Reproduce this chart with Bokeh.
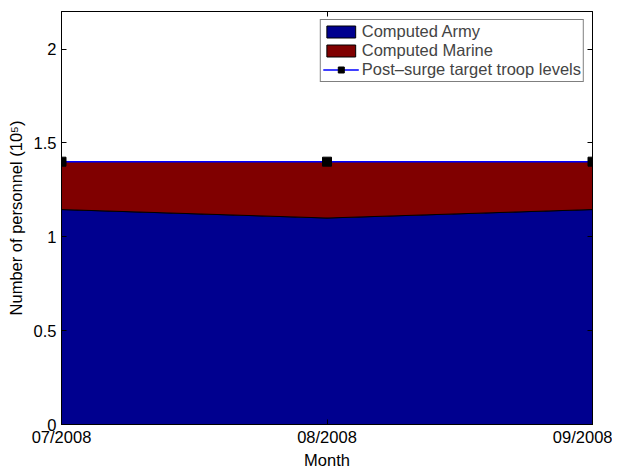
from bokeh.plotting import figure
from bokeh.models import LinearAxis, FixedTicker, Range1d, Legend, LegendItem
from bokeh.embed import file_html
from bokeh.resources import INLINE

months = ["07/2008", "08/2008", "09/2008"]
army = [1.145, 1.10, 1.145]
marine = [0.255, 0.30, 0.255]
target = [1.4, 1.4, 1.4]
y_ticks = [0, 0.5, 1, 1.5, 2]
y_tick_labels = ["0", "0.5", "1", "1.5", "2"]

xs = list(range(len(months)))
total = [a + m for a, m in zip(army, marine)]

FONT = "Liberation Sans"
FS = "16.5px"

p = figure(frame_width=531, frame_height=413, output_backend="svg", toolbar_location=None,
           x_range=Range1d(0, len(months) - 1), y_range=Range1d(0, 2.2),
           min_border_left=61, min_border_top=11, min_border_right=20, min_border_bottom=10)
p.background_fill_color = "white"
p.outline_line_color = "black"
p.outline_line_width = 1
p.grid.visible = False

army_patch = p.patch(xs + xs[::-1], army + [0] * len(xs), fill_color="#00008F",
                     line_color="black", line_width=1)
marine_patch = p.patch(xs + xs[::-1], total + army[::-1], fill_color="#800000",
                       line_color="black", line_width=1)
tline = p.line(xs, target, line_color="#0000FF", line_width=1.5)
tmark = p.scatter(xs, target, marker="square", size=9, fill_color="black", line_color="black")

def style_axis(ax):
    ax.major_tick_in = 5
    ax.major_tick_out = 0
    ax.minor_tick_in = 0
    ax.minor_tick_out = 0
    ax.axis_line_color = "black"
    ax.major_tick_line_color = "black"
    ax.major_label_text_font = FONT
    ax.major_label_text_font_size = FS
    ax.major_label_text_color = "black"
    ax.axis_label_text_font = FONT
    ax.axis_label_text_font_size = FS
    ax.axis_label_text_font_style = "normal"
    ax.axis_label_text_color = "black"

xaxis = p.xaxis[0]
xaxis.ticker = FixedTicker(ticks=xs)
xaxis.major_label_overrides = {i: m for i, m in zip(xs, months)}
xaxis.axis_label = "Month"
xaxis.axis_label_standoff = 2
xaxis.major_label_standoff = 3
style_axis(xaxis)

yaxis = p.yaxis[0]
yaxis.ticker = FixedTicker(ticks=y_ticks)
yaxis.major_label_overrides = {t: l for t, l in zip(y_ticks, y_tick_labels)}
yaxis.axis_label = "Number of personnel (10\u2075)"
yaxis.axis_label_standoff = 6
yaxis.major_label_standoff = 5
style_axis(yaxis)

top_ax = LinearAxis(ticker=FixedTicker(ticks=xs), major_label_standoff=0,
                    major_label_overrides={i: "" for i in xs})
style_axis(top_ax)
p.add_layout(top_ax, "above")
right_ax = LinearAxis(ticker=FixedTicker(ticks=y_ticks), major_label_standoff=0,
                      major_label_overrides={t: "" for t in y_ticks})
style_axis(right_ax)
p.add_layout(right_ax, "right")

legend = Legend(items=[
    LegendItem(label="Computed Army", renderers=[army_patch]),
    LegendItem(label="Computed Marine", renderers=[marine_patch]),
    LegendItem(label="Post\u2013surge target troop levels", renderers=[tline, tmark]),
], location="top_right")
legend.label_text_font = FONT
legend.label_text_font_size = FS
legend.label_standoff = 3
legend.glyph_width = 36
legend.glyph_height = 15
legend.label_height = 15
legend.spacing = 0
legend.padding = 2
legend.margin = 8
legend.border_line_color = "black"
legend.border_line_width = 1
legend.background_fill_alpha = 1
p.add_layout(legend)

open("out.html", "w").write(file_html(p, INLINE))
